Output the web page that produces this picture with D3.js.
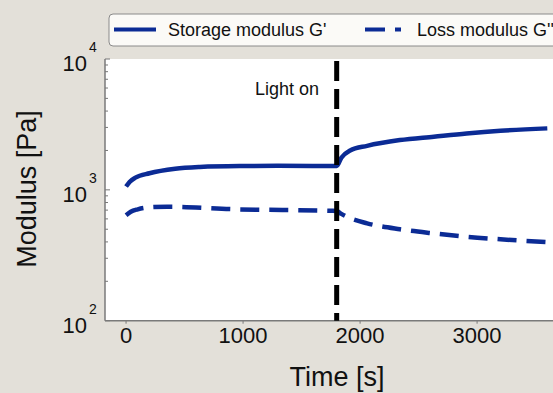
<!DOCTYPE html>
<html>
<head>
<meta charset="utf-8">
<script src="https://cdn.jsdelivr.net/npm/d3@7"></script>
<style>
  html, body { margin: 0; padding: 0; background: #e3e0d9; }
  svg { display: block; font-family: "Liberation Sans", Arial, sans-serif; }
</style>
</head>
<body>
<svg id="chart"></svg>
<script>
// storage modulus G' (solid)
const storageTime = [0, 30, 80, 200, 420, 630, 970, 1300, 1750, 1800, 1840, 1915, 2060, 2340, 2630, 2910, 3200, 3600];
const storage = [1060, 1150, 1240, 1340, 1450, 1495, 1520, 1525, 1520, 1520, 1760, 2000, 2170, 2400, 2550, 2700, 2830, 2950];

// loss modulus G'' (dashed)
const lossTime = [0, 40, 100, 200, 350, 900, 1750, 1800, 1840, 1900, 2060, 2340, 2630, 2910, 3200, 3600];
const loss = [640, 680, 710, 735, 743, 712, 692, 690, 655, 615, 555, 500, 465, 438, 419, 399];

const xTicks = [0, 1000, 2000, 3000];
const yTicks = [100, 1000, 10000];
const lightOn = 1800;

const W = 553, H = 393;
const blue = '#0b2b95';

const svg = d3.select('#chart').attr('width', W).attr('height', H);

const x = d3.scaleLinear().domain([-180, 3700]).range([105, 559]);
const y = d3.scaleLog().domain([100, 10000]).range([320.7, 59]);

// plot area
svg.append('rect')
  .attr('x', x(-180)).attr('y', y(10000))
  .attr('width', x(3700) - x(-180)).attr('height', y(100) - y(10000))
  .attr('fill', '#fff');

// minor y ticks (inside)
const minor = [];
[100, 1000].forEach(d => { for (let k = 2; k <= 9; k++) minor.push(d * k); });
svg.append('g').selectAll('line').data(minor).enter().append('line')
  .attr('x1', 105).attr('x2', 108)
  .attr('y1', d => y(d)).attr('y2', d => y(d))
  .attr('stroke', '#777').attr('stroke-width', 1);
svg.append('g').selectAll('line').data(yTicks).enter().append('line')
  .attr('x1', 105).attr('x2', 110)
  .attr('y1', d => y(d)).attr('y2', d => y(d))
  .attr('stroke', '#777').attr('stroke-width', 1);

// x ticks (outside)
svg.append('g').selectAll('line').data(xTicks).enter().append('line')
  .attr('x1', d => x(d)).attr('x2', d => x(d))
  .attr('y1', y(100)).attr('y2', y(100) + 3)
  .attr('stroke', '#777').attr('stroke-width', 1);

// axis lines
svg.append('line').attr('x1', 105).attr('x2', 105)
  .attr('y1', y(10000)).attr('y2', y(100))
  .attr('stroke', '#7a7a7a').attr('stroke-width', 1.5);
svg.append('line').attr('x1', 105).attr('x2', x(3700))
  .attr('y1', y(100)).attr('y2', y(100))
  .attr('stroke', '#7a7a7a').attr('stroke-width', 1.5);

// x tick labels
svg.append('g').selectAll('text').data(xTicks).enter().append('text')
  .attr('x', d => x(d)).attr('y', 343)
  .attr('text-anchor', 'middle')
  .attr('font-size', 22).attr('fill', '#111')
  .text(d => d);

// y tick labels 10^n
const yl = svg.append('g').selectAll('g').data(yTicks).enter().append('g');
yl.append('text')
  .attr('x', 87).attr('y', d => y(d) + 12)
  .attr('text-anchor', 'end')
  .attr('font-size', 22).attr('fill', '#111')
  .text('10');
yl.append('text')
  .attr('x', 89).attr('y', d => y(d) - 7)
  .attr('font-size', 14).attr('fill', '#111')
  .text(d => Math.round(Math.log10(d)));

// axis titles
svg.append('text')
  .attr('x', 337).attr('y', 386)
  .attr('text-anchor', 'middle')
  .attr('font-size', 27).attr('fill', '#111')
  .text('Time [s]');
svg.append('text')
  .attr('transform', 'translate(36,189) rotate(-90)')
  .attr('text-anchor', 'middle')
  .attr('font-size', 27).attr('fill', '#111')
  .text('Modulus [Pa]');

// lines
const line = d3.line()
  .x(d => x(d[0]))
  .y(d => y(d[1]))
  .curve(d3.curveMonotoneX);

svg.append('path')
  .datum(storageTime.map((t, i) => [t, storage[i]]))
  .attr('d', line)
  .attr('fill', 'none').attr('stroke', blue)
  .attr('stroke-width', 4.5);

svg.append('path')
  .datum(lossTime.map((t, i) => [t, loss[i]]))
  .attr('d', line)
  .attr('fill', 'none').attr('stroke', blue)
  .attr('stroke-width', 4.5)
  .attr('stroke-dasharray', '19,10');

// light on marker
svg.append('line')
  .attr('x1', x(lightOn)).attr('x2', x(lightOn))
  .attr('y1', y(10000) + 2).attr('y2', y(100))
  .attr('stroke', '#000').attr('stroke-width', 5)
  .attr('stroke-dasharray', '20,8');
svg.append('text')
  .attr('x', 319).attr('y', 95)
  .attr('text-anchor', 'end')
  .attr('font-size', 18).attr('fill', '#111')
  .text('Light on');

// legend
const lg = svg.append('g');
lg.append('rect')
  .attr('x', 109).attr('y', 14)
  .attr('width', 470).attr('height', 32)
  .attr('rx', 4)
  .attr('fill', '#fbfaf7').attr('stroke', '#8a8a8a').attr('stroke-width', 1);
lg.append('line')
  .attr('x1', 114).attr('x2', 156).attr('y1', 29.5).attr('y2', 29.5)
  .attr('stroke', blue).attr('stroke-width', 4);
lg.append('text')
  .attr('x', 168).attr('y', 36)
  .attr('font-size', 18).attr('fill', '#111')
  .text("Storage modulus G'");
lg.append('line')
  .attr('x1', 365).attr('x2', 401).attr('y1', 29.5).attr('y2', 29.5)
  .attr('stroke', blue).attr('stroke-width', 4)
  .attr('stroke-dasharray', '20,10');
lg.append('text')
  .attr('x', 417).attr('y', 36)
  .attr('font-size', 18).attr('fill', '#111')
  .text("Loss modulus G''");
</script>
</body>
</html>
